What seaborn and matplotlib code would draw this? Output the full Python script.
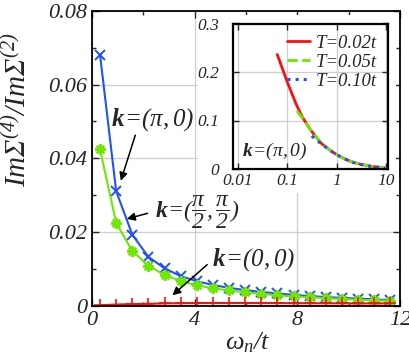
import numpy as np
import matplotlib
matplotlib.use('Agg')
import matplotlib.pyplot as plt
import seaborn as sns
from matplotlib.patches import Rectangle
from matplotlib.ticker import MultipleLocator, FixedLocator, FuncFormatter, NullLocator

# Matsubara frequencies (T = 0.1t)
omega_n = [0.314, 0.942, 1.571, 2.199, 2.827, 3.456, 4.084, 4.712, 5.341, 5.969,
           6.597, 7.226, 7.854, 8.482, 9.111, 9.739, 10.367, 10.996, 11.624]
ratio_pi0 = [0.068, 0.0311, 0.0193, 0.0133, 0.0102, 0.0081, 0.0067, 0.0057, 0.0049, 0.0043,
             0.0038, 0.0034, 0.0030, 0.0027, 0.0024, 0.0022, 0.0020, 0.0018, 0.0016]
ratio_pi2 = [0.0424, 0.0225, 0.0149, 0.0109, 0.0084, 0.0068, 0.0056, 0.0048, 0.0042, 0.0037,
             0.0033, 0.0029, 0.0026, 0.0024, 0.0021, 0.0019, 0.0017, 0.0015, 0.0014]
ratio_00 = [0.0002, 0.0004, 0.0005, 0.0006, 0.0007, 0.00075, 0.0008, 0.0008, 0.0008, 0.0008,
            0.0008, 0.00078, 0.00076, 0.00075, 0.00073, 0.00072, 0.0007, 0.0007, 0.0007]

# inset, k=(pi,0), three temperatures
w_T002 = [0.063, 0.1, 0.15, 0.2, 0.3, 0.5, 0.8, 1.2, 2.0, 3.0, 5.0, 10.0]
r_T002 = [0.236, 0.18, 0.135, 0.108, 0.08, 0.052, 0.036, 0.025, 0.015, 0.010, 0.0055, 0.002]
w_T005 = [0.157, 0.2, 0.3, 0.5, 0.8, 1.2, 2.0, 3.0, 5.0, 10.0]
r_T005 = [0.12, 0.106, 0.08, 0.052, 0.036, 0.025, 0.015, 0.010, 0.0055, 0.002]
w_T010 = [0.314, 0.5, 0.942, 1.571, 2.199, 2.827, 4.084, 5.969, 7.854, 9.739]
r_T010 = [0.068, 0.051, 0.0311, 0.0193, 0.0133, 0.0102, 0.0067, 0.0043, 0.0030, 0.0022]

red = '#ff0d0d'
blue = '#2250ff'
green = '#6ee800'

sns.set_style('ticks')
plt.rcParams['font.family'] = ['Liberation Serif']
plt.rcParams['font.style'] = 'italic'
plt.rcParams['mathtext.fontset'] = 'custom'
plt.rcParams['mathtext.rm'] = 'Liberation Serif'
plt.rcParams['mathtext.it'] = 'Liberation Serif:italic'
plt.rcParams['mathtext.bf'] = 'Liberation Serif:bold:italic'
plt.rcParams['xtick.direction'] = 'in'
plt.rcParams['ytick.direction'] = 'in'

fig = plt.figure(figsize=(4.1, 3.54), dpi=100)
ax = fig.add_axes([0.2244, 0.1356, 0.7512, 0.8342])

sns.lineplot(x=omega_n, y=ratio_pi0, ax=ax, color=blue, lw=1.5, marker='x',
             markersize=7.5, markeredgewidth=1.4, markeredgecolor=blue)
sns.lineplot(x=omega_n, y=ratio_pi2, ax=ax, color=green, lw=1.5, marker=(8, 2, 0),
             markersize=7.5, markeredgewidth=1.6, markeredgecolor=green)
sns.lineplot(x=omega_n, y=ratio_00, ax=ax, color=red, lw=1.5, marker='+',
             markersize=8, markeredgewidth=1.2, markeredgecolor=red)

ax.set_xlim(0, 12)
ax.set_ylim(0, 0.08)
ax.xaxis.set_major_locator(MultipleLocator(4))
ax.xaxis.set_minor_locator(MultipleLocator(2))
ax.yaxis.set_major_locator(MultipleLocator(0.02))
ax.yaxis.set_minor_locator(MultipleLocator(0.01))
ax.yaxis.set_major_formatter(FuncFormatter(lambda v, p: '0' if abs(v) < 1e-9 else f'{v:.2f}'))
ax.grid(True, which='major', color='#cfcfcf', lw=0.9)
ax.tick_params(which='both', top=True, right=True, labelsize=16, width=1)
ax.tick_params(which='major', length=5)
ax.tick_params(which='minor', length=3)
for s in ax.spines.values():
    s.set_linewidth(1.3)
    s.set_color('black')

# annotations
arrow = dict(arrowstyle='-|>', color='black', lw=1.1, mutation_scale=12)
ax.annotate('', xy=(1.09, 0.0332), xytext=(1.72, 0.047), arrowprops=arrow)
ax.text(2.35, 0.0505, r'$\mathbf{k}\!=\!(\pi,0)$', fontsize=18, ha='center', va='center')
ax.annotate('', xy=(1.25, 0.0234), xytext=(2.27, 0.0253), arrowprops=arrow)
ax.text(4.1, 0.0253, r'$\mathbf{k}\!=\!(\dfrac{\pi}{2},\dfrac{\pi}{2})$', fontsize=17,
        ha='center', va='center')
ax.annotate('', xy=(3.05, 0.0024), xytext=(4.57, 0.0117), arrowprops=arrow)
ax.text(6.3, 0.0125, r'$\mathbf{k}\!=\!(0,0)$', fontsize=18, ha='center', va='center')

fig.text(0.042, 0.69, r'$\mathit{Im\Sigma}^{(4)}/\mathit{Im\Sigma}^{(2)}$', rotation=90,
         fontsize=21, ha='center', va='center')
fig.text(0.605, 0.032, r'$\omega_n/t$', fontsize=19, ha='center', va='center')

# white backing for the inset
bg = fig.add_axes([198 / 410, (354 - 193) / 354, 198 / 410, 178 / 354])
bg.set_axis_off()
bg.add_patch(Rectangle((0, 0), 1, 1, transform=bg.transAxes, color='white'))

axin = fig.add_axes([233 / 410, (354 - 169) / 354, 155 / 410, 145.5 / 354])
sns.lineplot(x=w_T002, y=r_T002, ax=axin, color=red, lw=2, label='T=0.02t')
sns.lineplot(x=w_T005, y=r_T005, ax=axin, color=green, lw=2, linestyle='--', label='T=0.05t')
sns.lineplot(x=w_T010, y=r_T010, ax=axin, color=blue, lw=2.2, linestyle=':', label='T=0.10t')
axin.set_xscale('log')
axin.set_xlim(0.008, 11)
axin.set_ylim(0, 0.3)
axin.xaxis.set_major_locator(FixedLocator([0.01, 0.1, 1, 10]))
axin.xaxis.set_minor_locator(NullLocator())
axin.xaxis.set_major_formatter(FuncFormatter(lambda v, p: f'{v:g}'))
axin.yaxis.set_major_locator(MultipleLocator(0.1))
axin.yaxis.set_major_formatter(FuncFormatter(lambda v, p: '0' if abs(v) < 1e-9 else f'{v:.1f}'))
axin.grid(True, which='major', color='#cfcfcf', lw=0.9)
axin.tick_params(which='both', top=True, right=True, labelsize=12.5, length=4, width=1)
axin.tick_params(axis='y', pad=10)
axin.tick_params(axis='x', pad=3)
for s in axin.spines.values():
    s.set_linewidth(1.6)
    s.set_color('black')
axin.legend(loc='upper right', frameon=False, handlelength=1.2, handletextpad=0.3,
            labelspacing=0.1, borderaxespad=0.2,
            prop={'family': 'Liberation Serif', 'style': 'italic', 'size': 13.5})
axin.text(0.27, 0.12, r'$\mathbf{k}\!=\!(\pi,0)$', transform=axin.transAxes, fontsize=14,
          ha='center', va='center')

fig.savefig('out.png', dpi=100)
